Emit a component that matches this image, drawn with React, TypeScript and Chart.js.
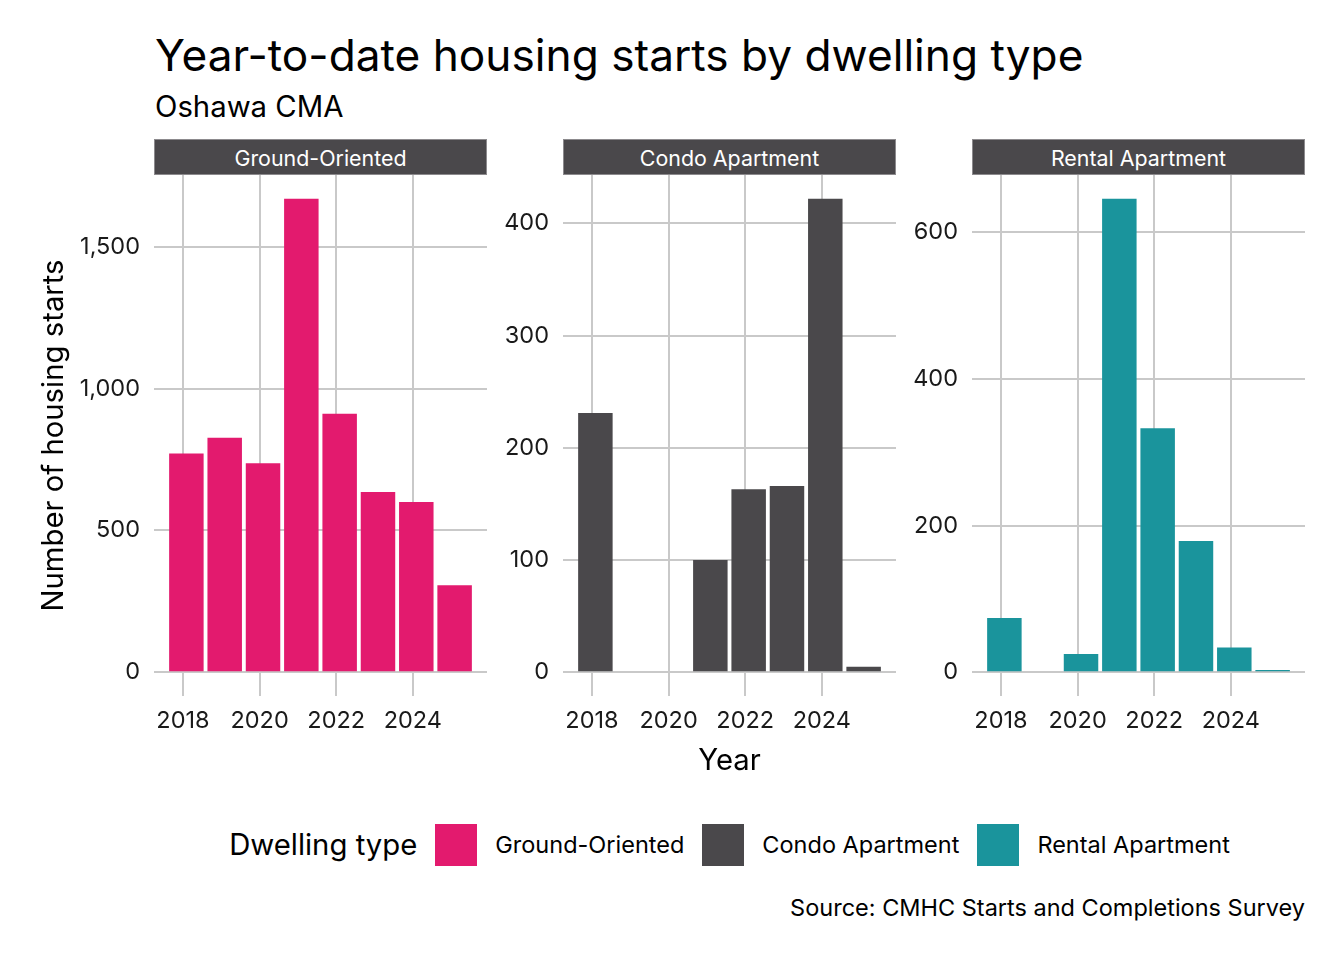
import React, { useEffect, useRef } from "react";
import { Chart, registerables } from "chart.js";

Chart.register(...registerables);

// ---- data ----
const years = [2018, 2019, 2020, 2021, 2022, 2023, 2024, 2025];
const groundOriented = [771, 827, 737, 1669, 911, 635, 600, 307];
const condoApartment = [231, 0, 0, 100, 163, 166, 422, 5];
const rentalApartment = [74, 0, 25, 646, 333, 179, 34, 3];
const dwellingTypes = ["Ground-Oriented", "Condo Apartment", "Rental Apartment"];
const typeColors = ["#e31a6e", "#4a484b", "#1a949c"];
const xTickYears = [2018, 2020, 2022, 2024];
const groundTicks = [0, 500, 1000, 1500];
const condoTicks = [0, 100, 200, 300, 400];
const rentalTicks = [0, 200, 400, 600];

const TITLE = "Year-to-date housing starts by dwelling type";
const SUBTITLE = "Oshawa CMA";
const X_TITLE = "Year";
const Y_TITLE = "Number of housing starts";
const LEGEND_TITLE = "Dwelling type";
const CAPTION = "Source: CMHC Starts and Completions Survey";

// YTD period sits just after Jan 1 of each year
const YTD_SHIFT = 0.09;

// ---- layout ----
const FONT = "Inter, 'Noto Sans', sans-serif";
const PANEL_LEFT = [154, 563, 972];
const PANEL_W = 333;
const PANEL_TOP = 175;
const PANEL_H = 521;
const X_AXIS_H = 100;
const STRIP_TOP = 139;
const GRID = "#c9c9c9";
const TEXT = "#1a1a1a";
const TICK_SIZE = 23.5;
const AXIS_TITLE_SIZE = 29.3;

Chart.defaults.font.family = FONT;

type PanelProps = {
  values: number[];
  ticks: number[];
  color: string;
  left: number;
  axisW: number;
  showY: boolean;
  showX: boolean;
};

function Panel({ values, ticks, color, left, axisW, showY, showX }: PanelProps) {
  const ref = useRef<HTMLCanvasElement | null>(null);
  const w = axisW + PANEL_W;
  const h = PANEL_H + X_AXIS_H;

  useEffect(() => {
    if (!ref.current) return;
    const pts = years.map((yr, k) => ({ x: yr + YTD_SHIFT, y: values[k] }));
    const xs = pts.map((p) => p.x);
    const lo = Math.min(...xs) - 0.45;
    const hi = Math.max(...xs) + 0.45;
    const xPad = (hi - lo) * 0.05;
    const vmax = Math.max(...values);

    const chart = new Chart(ref.current, {
      type: "bar",
      data: {
        datasets: [
          {
            data: pts as any,
            backgroundColor: color,
            borderWidth: 0,
            barPercentage: 0.9,
            categoryPercentage: 1,
          },
        ],
      },
      options: {
        animation: false,
        responsive: false,
        maintainAspectRatio: false,
        layout: { padding: 0 },
        plugins: {
          legend: { display: false },
          tooltip: { enabled: false },
          title: { display: false },
        },
        scales: {
          x: {
            type: "linear",
            offset: false,
            min: lo - xPad,
            max: hi + xPad,
            afterBuildTicks: (s: any) => {
              s.ticks = xTickYears.map((v) => ({ value: v }));
            },
            afterFit: (s: any) => {
              s.height = X_AXIS_H;
              s.paddingLeft = 0;
              s.paddingRight = 0;
            },
            grid: { color: GRID, lineWidth: 2, drawTicks: false, offset: false },
            border: { display: false },
            ticks: {
              padding: 11,
              color: TEXT,
              font: { family: FONT, size: TICK_SIZE },
              maxRotation: 0,
              autoSkip: false,
              callback: (v: any) => String(v),
            },
            title: {
              display: showX,
              text: X_TITLE,
              color: "#000",
              font: { family: FONT, size: AXIS_TITLE_SIZE },
              padding: { top: 0, bottom: 17 },
            },
          },
          y: {
            type: "linear",
            beginAtZero: false,
            min: -0.05 * vmax,
            max: 1.05 * vmax,
            afterBuildTicks: (s: any) => {
              s.ticks = ticks.map((v) => ({ value: v }));
            },
            afterFit: (s: any) => {
              s.width = axisW;
              s.paddingTop = 0;
              s.paddingBottom = 0;
            },
            grid: { color: GRID, lineWidth: 2, drawTicks: false },
            border: { display: false },
            ticks: {
              padding: 14,
              color: TEXT,
              font: { family: FONT, size: TICK_SIZE },
              callback: (v: any) => Number(v).toLocaleString("en-US"),
            },
            title: {
              display: showY,
              text: Y_TITLE,
              color: "#000",
              font: { family: FONT, size: AXIS_TITLE_SIZE },
              padding: { top: 37, bottom: 0 },
            },
          },
        },
      },
    });
    return () => chart.destroy();
  }, [values, ticks, color, axisW, showX, showY]);

  return (
    <canvas
      ref={ref}
      width={w}
      height={h}
      style={{ position: "absolute", left: left - axisW, top: PANEL_TOP, width: w, height: h }}
    />
  );
}

function Strip({ left, label }: { left: number; label: string }) {
  return (
    <div
      style={{
        position: "absolute",
        left,
        top: STRIP_TOP,
        width: PANEL_W,
        height: PANEL_TOP - STRIP_TOP,
        boxSizing: "border-box",
        background: "#4a484b",
        border: "1px solid #8c8a8d",
        color: "#ffffff",
        fontSize: 21.4,
        display: "flex",
        alignItems: "center",
        justifyContent: "center",
        lineHeight: 1,
        paddingTop: 3,
      }}
    >
      {label}
    </div>
  );
}

export default function App() {
  const series = [groundOriented, condoApartment, rentalApartment];
  const tickSets = [groundTicks, condoTicks, rentalTicks];
  return (
    <div
      style={{
        position: "absolute",
        left: 0,
        top: 0,
        width: 1344,
        height: 960,
        background: "#ffffff",
        fontFamily: FONT,
        color: "#000",
        overflow: "hidden",
      }}
    >
      <div style={{ position: "absolute", left: 155, top: 33, fontSize: 44.2, lineHeight: 1, whiteSpace: "nowrap" }}>
        {TITLE}
      </div>
      <div style={{ position: "absolute", left: 155, top: 92, fontSize: 29.3, lineHeight: 1, whiteSpace: "nowrap" }}>
        {SUBTITLE}
      </div>

      {dwellingTypes.map((t, i) => (
        <Strip key={t} left={PANEL_LEFT[i]} label={t} />
      ))}

      {dwellingTypes.map((t, i) => (
        <Panel
          key={t}
          values={series[i]}
          ticks={tickSets[i]}
          color={typeColors[i]}
          left={PANEL_LEFT[i]}
          axisW={i === 0 ? PANEL_LEFT[0] : 70}
          showY={i === 0}
          showX={i === 1}
        />
      ))}

      <div
        style={{
          position: "absolute",
          left: 154,
          width: 1151,
          top: 824,
          height: 42,
          display: "flex",
          alignItems: "center",
          justifyContent: "center",
          lineHeight: 1,
          whiteSpace: "nowrap",
        }}
      >
        <span style={{ fontSize: AXIS_TITLE_SIZE, marginRight: 18 }}>{LEGEND_TITLE}</span>
        {dwellingTypes.map((t, i) => (
          <React.Fragment key={t}>
            <span
              style={{
                display: "inline-block",
                width: 42,
                height: 42,
                background: typeColors[i],
                marginLeft: i === 0 ? 0 : 18,
              }}
            />
            <span style={{ fontSize: TICK_SIZE, marginLeft: 18 }}>{t}</span>
          </React.Fragment>
        ))}
      </div>

      <div
        style={{
          position: "absolute",
          right: 1344 - 1305,
          top: 896,
          fontSize: TICK_SIZE,
          lineHeight: 1,
          whiteSpace: "nowrap",
          textAlign: "right",
        }}
      >
        {CAPTION}
      </div>
    </div>
  );
}
